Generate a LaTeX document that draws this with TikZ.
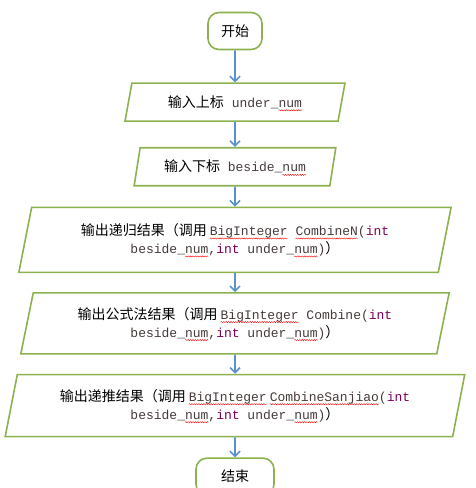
\documentclass[tikz,border=0pt]{standalone}
\usepackage{fontspec}
\setmainfont{Noto Sans CJK SC}
\setmonofont{Liberation Mono}
\usetikzlibrary{positioning,arrows.meta,shapes.geometric,decorations.pathmorphing}

\definecolor{boxgreen}{RGB}{140,178,80}
\definecolor{flowblue}{RGB}{91,146,205}
\definecolor{codegray}{RGB}{70,58,58}
\definecolor{kwpurple}{RGB}{127,0,85}

\newcommand{\code}[1]{{\fontsize{13pt}{18pt}\ttfamily\color{codegray}#1}}
\newcommand{\kw}[1]{{\fontsize{13pt}{18pt}\ttfamily\color{kwpurple}#1}}
\newsavebox{\spellbox}
\newcommand{\spell}[1]{\sbox{\spellbox}{#1}%
  \rlap{\tikz[baseline=0pt,overlay]\draw[red,line width=0.4pt,decorate,
    decoration={snake,amplitude=0.6pt,segment length=2.4pt}]
    (0pt,-3pt) -- (\the\wd\spellbox,-3pt);}\usebox{\spellbox}}

\begin{document}
\begin{tikzpicture}[x=1pt,y=1pt,>={Straight Barb[length=5pt,width=10pt]},
  term/.style={draw=boxgreen,line width=1.6pt,rounded corners=11pt,minimum height=37pt},
  io/.style={draw=boxgreen,line width=1.6pt,trapezium,trapezium left angle=75,
    trapezium right angle=105,trapezium stretches=true,align=center,inner sep=2pt},
  flow/.style={->,draw=flowblue,line width=1.6pt},
  font=\fontsize{14pt}{18pt}\selectfont]

\useasboundingbox (0,0) rectangle (475,-488);

%---------------------------------
% INICIO Y ENTRADAS
%---------------------------------
\node[term,minimum width=54pt] (start) at (235,-31) {开始};

\node[io,minimum width=220pt,minimum height=38pt,below=32pt of start] (under)
{输入上标\code{\ under\_\spell{num}}};

\node[io,minimum width=202pt,minimum height=38pt,below=25pt of under] (beside)
{输入下标\code{\ beside\_\spell{num}}};

%---------------------------------
% SALIDAS
%---------------------------------
\node[io,minimum width=433pt,minimum height=65pt,below=20pt of beside] (recur)
{输出递归结果（调用\hspace{3pt}\code{\spell{BigInteger}\ \spell{CombineN}(}\kw{int}\\
\code{beside\_\spell{num},}\kw{int}\code{\ under\_\spell{num})}）};

\node[io,minimum width=430pt,minimum height=61pt,below=19pt of recur] (formula)
{输出公式法结果（调用\hspace{3pt}\code{\spell{BigInteger}\ Combine(}\kw{int}\\
\code{beside\_\spell{num},}\kw{int}\code{\ under\_\spell{num})}）};

\node[io,minimum width=460pt,minimum height=62pt,below=19pt of formula] (iter)
{输出递推结果（调用\hspace{3pt}\code{\spell{BigInteger}\hspace{3pt}\spell{CombineSanjiao}(}\kw{int}\\
\code{beside\_\spell{num},}\kw{int}\code{\ under\_\spell{num})}）};

%---------------------------------
% FIN
%---------------------------------
\node[term,minimum width=78pt,below=20pt of iter] (stop) {结束};

% flechas
\draw[flow] (start) -- (under);
\draw[flow] (under) -- (beside);
\draw[flow] (beside) -- (recur);
\draw[flow] (recur) -- (formula);
\draw[flow] (formula) -- (iter);
\draw[flow] (iter) -- (stop);

\end{tikzpicture}
\end{document}
